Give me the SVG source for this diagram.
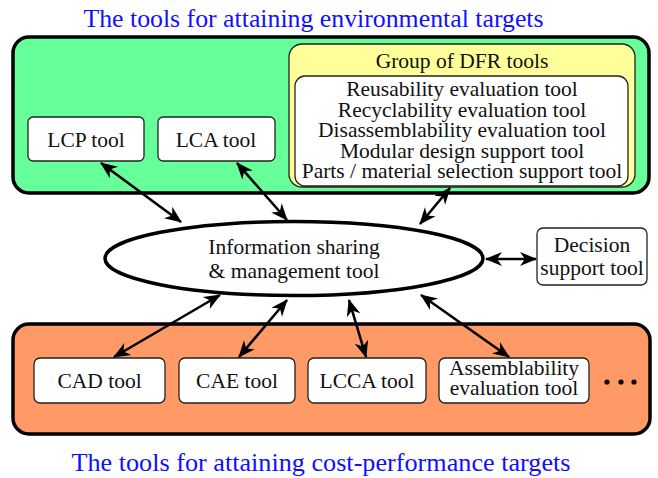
<svg xmlns="http://www.w3.org/2000/svg" width="658" height="478" viewBox="0 0 658 478">
<style>
text{font-family:"Liberation Serif","Times New Roman",serif;font-size:21.5px;fill:#111;text-anchor:middle}
.title{font-size:25.8px;fill:#1010ff}
.box{fill:#fff;stroke:#222;stroke-width:1.3}
.panel{stroke:#000;stroke-width:3.5}
.conn{stroke:#000;stroke-width:2.6;fill:none;marker-start:url(#ah);marker-end:url(#ah)}
</style>
<defs>
<marker id="ah" markerUnits="userSpaceOnUse" viewBox="-18 -8 20 16" refX="0" refY="0" markerWidth="20" markerHeight="16" orient="auto-start-reverse">
<path d="M1,0 L-16,-7 L-11,0 L-16,7 Z" fill="#000"/>
</marker>
</defs>
<text class="title" x="313.5" y="27">The tools for attaining environmental targets</text>
<text class="title" x="321" y="471" style="font-size:26.2px">The tools for attaining cost-performance targets</text>
<g id="env-panel">
<rect class="panel" x="13" y="37" width="636" height="156" rx="16" fill="#66ff99"/>
</g>
<g id="cost-panel">
<rect class="panel" x="13" y="324" width="637" height="110" rx="16" fill="#ff9966"/>
</g>
<g id="dfr-group">
<rect x="289" y="44" width="346" height="143" rx="13" fill="#ffff99" stroke="#222" stroke-width="1.3"/>
<rect class="box" x="295" y="76" width="333" height="110" rx="10"/>
<text x="462" y="68">Group of DFR tools</text>
<text x="462" y="96">Reusability evaluation tool</text>
<text x="462" y="117">Recyclability evaluation tool</text>
<text x="462" y="137">Disassemblability evaluation tool</text>
<text x="462" y="158">Modular design support tool</text>
<text x="462" y="178">Parts / material selection support tool</text>
</g>
<g id="lcp">
<rect class="box" x="28" y="117" width="116" height="44" rx="5"/>
<text x="86" y="147">LCP tool</text>
</g>
<g id="lca">
<rect class="box" x="158" y="117" width="117" height="44" rx="5"/>
<text x="216" y="147">LCA tool</text>
</g>
<g id="info">
<ellipse cx="294" cy="258.5" rx="189" ry="37" fill="#fff" stroke="#000" stroke-width="3.5"/>
<text x="294" y="254">Information sharing</text>
<text x="294" y="278">&amp; management tool</text>
</g>
<g id="decision">
<rect class="box" x="537" y="228" width="110" height="57" rx="6"/>
<text x="592" y="252">Decision</text>
<text x="592" y="275">support tool</text>
</g>
<g id="cad">
<rect class="box" x="34" y="358" width="131" height="45" rx="6"/>
<text x="99.5" y="388">CAD tool</text>
</g>
<g id="cae">
<rect class="box" x="179" y="358" width="116" height="45" rx="6"/>
<text x="237" y="388">CAE tool</text>
</g>
<g id="lcca">
<rect class="box" x="308" y="358" width="118" height="45" rx="6"/>
<text x="367" y="388">LCCA tool</text>
</g>
<g id="assembly">
<rect class="box" x="439" y="358" width="150" height="45" rx="6"/>
<text x="514" y="375">Assemblability</text>
<text x="514" y="395">evaluation tool</text>
</g>
<g id="more">
<circle cx="607" cy="382" r="2.6" fill="#000"/>
<circle cx="621" cy="382" r="2.6" fill="#000"/>
<circle cx="634" cy="382" r="2.6" fill="#000"/>
</g>
<g id="connectors">
<line class="conn" x1="101" y1="163" x2="181" y2="222"/>
<line class="conn" x1="237" y1="163" x2="287" y2="220"/>
<line class="conn" x1="450" y1="188" x2="420" y2="224"/>
<line class="conn" x1="486" y1="259" x2="536" y2="259"/>
<line class="conn" x1="220" y1="295" x2="114" y2="357"/>
<line class="conn" x1="287" y1="300" x2="239" y2="357"/>
<line class="conn" x1="349" y1="300" x2="366" y2="357"/>
<line class="conn" x1="421" y1="295" x2="509" y2="357"/>
</g>
</svg>
